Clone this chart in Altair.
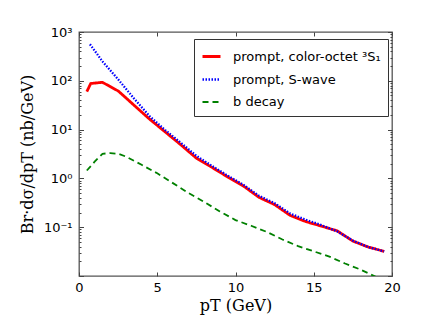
import altair as alt
import pandas as pd

# ---- data ----
octet_x = [0.5, 0.75, 1.5, 2.5, 3.5, 4.5, 5.5, 6.5, 7.5, 8.5, 9.5, 10.5, 11.5, 12.5,
           13.5, 14.5, 15.5, 16.5, 17.5, 18.5, 19.5]
octet_y = [60, 88, 93, 62, 32, 16.5, 9.0, 4.9, 2.6, 1.68, 1.07, 0.70, 0.41, 0.29,
           0.174, 0.13, 0.105, 0.084, 0.052, 0.039, 0.032]

swave_x = [0.7, 1.5, 2.5, 3.5, 4.5, 5.5, 6.5, 7.5, 8.5, 9.5, 10.5, 11.5, 12.5,
           13.5, 14.5, 15.5, 16.5, 17.5, 18.5, 19.5]
swave_y = [560, 250, 107, 44, 19, 9.8, 5.4, 2.9, 1.8, 1.14, 0.74, 0.44, 0.31,
           0.19, 0.142, 0.11, 0.082, 0.053, 0.039, 0.032]

bdecay_x = [0.5, 1.0, 1.5, 2.0, 2.5, 3.0, 4.0, 5.0, 6.0, 7.0, 8.0, 9.0, 10.0, 11.0,
            12.0, 13.0, 14.0, 15.0, 16.0, 17.0, 18.0, 19.0]
bdecay_y = [1.45, 2.2, 3.2, 3.3, 3.2, 2.8, 1.9, 1.27, 0.80, 0.50, 0.33, 0.21, 0.14,
            0.107, 0.080, 0.056, 0.041, 0.032, 0.025, 0.018, 0.0135, 0.0095]

series = ["prompt, color-octet \u00b3S\u2081", "prompt, S-wave", "b decay"]
colors = ["#ff0000", "#0000ff", "#008000"]
dashes = [[1, 0], [1.5, 1.5], [6, 4]]
widths = [2.8, 1.8, 3.0]

x_ticks = [0, 5, 10, 15, 20]
y_major = [0.01, 0.1, 1, 10, 100, 1000]
y_minor = [m * d for d in [0.01, 0.1, 1, 10, 100] for m in range(2, 10)]

rows = []
for name, xs, ys in zip(series, [octet_x, swave_x, bdecay_x], [octet_y, swave_y, bdecay_y]):
    for i, (a, b) in enumerate(zip(xs, ys)):
        rows.append({"series": name, "pt": a, "val": b, "order": i})
df = pd.DataFrame(rows)

W, H = 313, 244
xscale = alt.Scale(domain=[0, 20], nice=False, zero=False)
yscale = alt.Scale(type="log", domain=[0.01, 1000], nice=False)

label_expr = ("datum.value < 0.5 ? '10\u207b\u00b9' : datum.value < 5 ? '10\u2070' : "
              "datum.value < 50 ? '10\u00b9' : datum.value < 500 ? '10\u00b2' : '10\u00b3'")

lines = alt.Chart(df).mark_line(clip=True, strokeCap="butt").encode(
    x=alt.X("pt:Q", scale=xscale,
            axis=alt.Axis(values=x_ticks, ticks=False, domain=False, grid=False,
                          labelFlush=False, labelOverlap=False,
                          labelFontSize=13, labelPadding=5, labelFont="DejaVu Sans",
                          labelColor="black",
                          title="pT (GeV)", titleFont="DejaVu Serif", titleFontSize=16,
                          titleFontWeight="normal", titlePadding=3, titleColor="black")),
    y=alt.Y("val:Q", scale=yscale,
            axis=alt.Axis(values=[0.1, 1, 10, 100, 1000], labelExpr=label_expr,
                          ticks=False, domain=False, grid=False,
                          labelFlush=False, labelOverlap=False,
                          labelFontSize=13, labelPadding=7, labelFont="DejaVu Sans",
                          labelColor="black",
                          title="Br\u00b7d\u03c3/dpT (nb/GeV)", titleFont="DejaVu Serif",
                          titleFontSize=16, titleFontWeight="normal", titlePadding=8,
                          titleColor="black")),
    color=alt.Color("series:N", scale=alt.Scale(domain=series, range=colors),
                    legend=alt.Legend(title=None, orient="none", legendX=115, legendY=7,
                                      symbolType="stroke", symbolSize=324,
                                      labelFontSize=13, labelFont="DejaVu Sans",
                                      labelColor="black", labelOffset=11,
                                      rowPadding=5, padding=7,
                                      strokeColor="#333", fillColor="white",
                                      cornerRadius=0)),
    strokeDash=alt.StrokeDash("series:N", scale=alt.Scale(domain=series, range=dashes),
                              legend=alt.Legend(title=None)),
    strokeWidth=alt.StrokeWidth("series:N", scale=alt.Scale(domain=series, range=widths),
                                legend=alt.Legend(title=None)),
    order="order:Q",
)

all_y = sorted(y_major + y_minor)
major_test = ("datum.value == 0.01 || datum.value == 0.1 || datum.value == 1 || "
              "datum.value == 10 || datum.value == 100 || datum.value == 1000")


def tick_axis_x(orient):
    return alt.Axis(orient=orient, offset=-H, values=x_ticks, labels=False, domain=False,
                    grid=False, title=None, tickSize=4, tickColor="#444", tickWidth=1)


yaxis_a = {"orient": "right", "offset": -W, "values": all_y, "labels": False, "domain": False,
           "grid": False, "title": None, "tickColor": "#444", "tickWidth": 1,
           "tickSize": {"condition": {"test": major_test, "value": 4.5}, "value": 2}}
yaxis_b = dict(yaxis_a, orient="left")

dummy_a = alt.Chart(df).mark_point(opacity=0).encode(
    x=alt.X("pt:Q", scale=xscale, axis=tick_axis_x("top")),
    y=alt.Y("val:Q", scale=yscale, axis=alt.Axis(**yaxis_a)),
)
dummy_b = alt.Chart(df).mark_point(opacity=0).encode(
    x=alt.X("pt:Q", scale=xscale, axis=tick_axis_x("bottom")),
    y=alt.Y("val:Q", scale=yscale, axis=alt.Axis(**yaxis_b)),
)

chart = alt.layer(lines, dummy_a, dummy_b).resolve_axis(
    x="independent", y="independent"
).properties(
    width=W, height=H,
    autosize=alt.AutoSizeParams(type="none"),
    padding={"left": 71, "top": 24, "right": 20, "bottom": 40},
).configure_view(stroke="#555", strokeWidth=1.3)

chart.save("out.html", embed_options={"renderer": "svg", "actions": False})
